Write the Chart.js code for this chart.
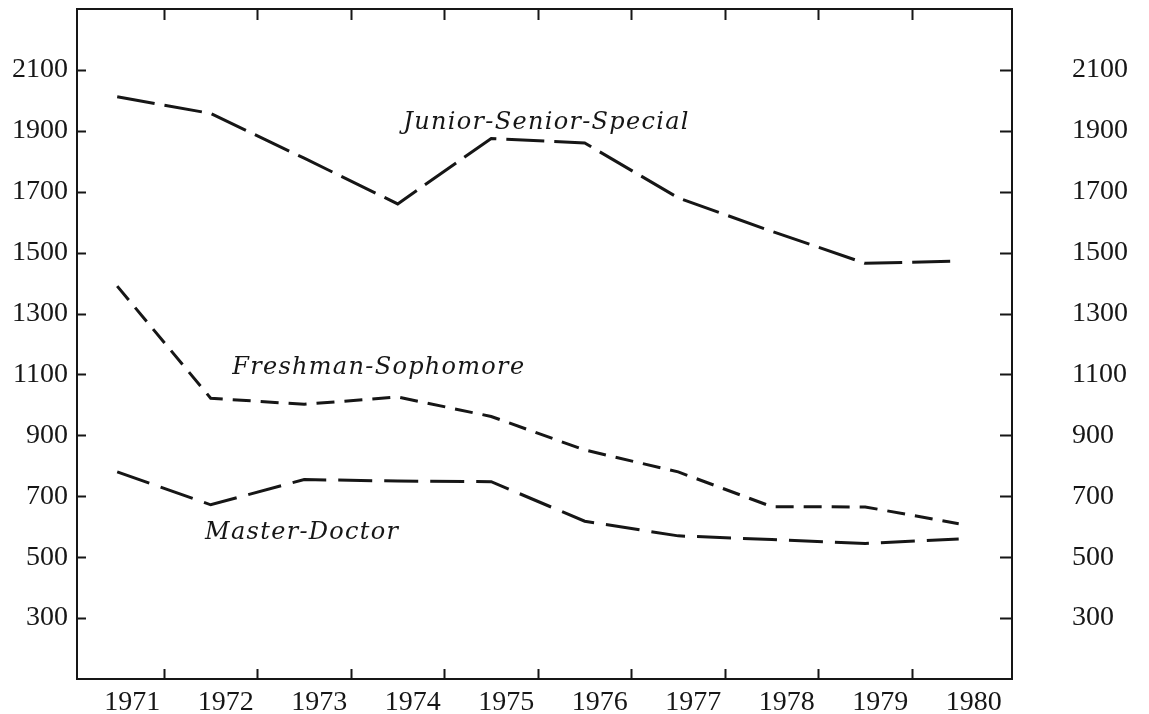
<!DOCTYPE html>
<html>
<head>
<meta charset="utf-8">
<script src="https://cdn.jsdelivr.net/npm/chart.js@4.4.1/dist/chart.umd.min.js"></script>
<style>
  html, body { margin: 0; padding: 0; background: #fff; }
  #wrap { width: 1149px; height: 714px; }
</style>
</head>
<body>
<div id="wrap"><canvas id="enrollChart" width="1149" height="714"></canvas></div>
<script>
// enrollment by level, 1971-1980
const years = [1971, 1972, 1973, 1974, 1975, 1976, 1977, 1978, 1979, 1980];
const juniorSeniorSpecial = [2012, 1957, 1810, 1660, 1875, 1860, 1680, 1570, 1465, 1472];
const freshmanSophomore = [1390, 1022, 1002, 1026, 962, 852, 780, 666, 665, 610];
const masterDoctor = [780, 672, 755, 750, 748, 618, 570, 558, 545, 560];
const yTickValues = [300, 500, 700, 900, 1100, 1300, 1500, 1700, 1900, 2100];

const ink = '#161616';
const tickFont = { family: '"Liberation Serif", serif', size: 28 };

// text labels placed in data coordinates
const seriesLabels = [
  { text: 'Junior-Senior-Special', x: 1974.06, y: 1907 },
  { text: 'Freshman-Sophomore', x: 1972.23, y: 1100 },
  { text: 'Master-Doctor', x: 1971.94, y: 561 }
];

function toPoints(values) {
  return values.map((v, i) => ({ x: years[i], y: v }));
}

// keep the plot frame fixed; label overhang should not shrink it
function fixSize(prop, size) {
  return s => {
    s[prop] = size;
    s.paddingTop = 0;
    s.paddingBottom = 0;
    s.paddingLeft = 0;
    s.paddingRight = 0;
  };
}

const frameTicks = {
  id: 'frameTicks',
  afterDraw(chart) {
    const ctx = chart.ctx;
    const area = chart.chartArea;
    const x = chart.scales.x;
    const y = chart.scales.y;
    const halfYears = years.slice(0, -1).map(v => v + 0.5);

    ctx.save();
    ctx.strokeStyle = ink;
    ctx.lineWidth = 2;
    ctx.beginPath();
    yTickValues.forEach(v => {
      const py = Math.round(y.getPixelForValue(v)) + 0.5;
      ctx.moveTo(area.left, py);
      ctx.lineTo(area.left + 9, py);
      ctx.moveTo(area.right, py);
      ctx.lineTo(area.right - 12, py);
    });
    halfYears.forEach(v => {
      const px = Math.round(x.getPixelForValue(v)) + 0.5;
      ctx.moveTo(px, area.top);
      ctx.lineTo(px, area.top + 11);
      ctx.moveTo(px, area.bottom);
      ctx.lineTo(px, area.bottom - 10);
    });
    ctx.stroke();

    ctx.fillStyle = ink;
    ctx.font = 'italic 24px "DejaVu Serif", serif';
    ctx.letterSpacing = '1.3px';
    ctx.textAlign = 'left';
    ctx.textBaseline = 'alphabetic';
    seriesLabels.forEach(l => {
      ctx.fillText(l.text, x.getPixelForValue(l.x), y.getPixelForValue(l.y));
    });
    ctx.restore();
  }
};

const lineStyle = {
  borderColor: ink,
  borderWidth: 3,
  pointRadius: 0,
  tension: 0,
  fill: false
};

new Chart(document.getElementById('enrollChart'), {
  type: 'line',
  data: {
    datasets: [
      Object.assign({ label: 'Junior-Senior-Special', data: toPoints(juniorSeniorSpecial), borderDash: [38, 10] }, lineStyle),
      Object.assign({ label: 'Freshman-Sophomore', data: toPoints(freshmanSophomore), borderDash: [18, 10] }, lineStyle),
      Object.assign({ label: 'Master-Doctor', data: toPoints(masterDoctor), borderDash: [34, 12] }, lineStyle)
    ]
  },
  options: {
    responsive: false,
    animation: false,
    layout: { padding: 0 },
    plugins: {
      legend: { display: false },
      tooltip: { enabled: false }
    },
    scales: {
      x: {
        type: 'linear',
        position: 'bottom',
        min: 1970.57,
        max: 1980.57,
        afterBuildTicks: s => { s.ticks = years.map(v => ({ value: v })); },
        afterFit: fixSize('height', 35),
        grid: { display: false, drawTicks: false },
        border: { display: true, color: ink, width: 2 },
        ticks: {
          font: tickFont,
          color: ink,
          padding: 7,
          labelOffset: 15,
          maxRotation: 0,
          autoSkip: false,
          callback: v => String(v)
        }
      },
      xTop: {
        type: 'linear',
        position: 'top',
        min: 1970.57,
        max: 1980.57,
        afterFit: fixSize('height', 9),
        grid: { display: false, drawTicks: false },
        border: { display: true, color: ink, width: 2 },
        ticks: { display: false }
      },
      y: {
        position: 'left',
        min: 100,
        max: 2300,
        afterBuildTicks: s => { s.ticks = yTickValues.map(v => ({ value: v })); },
        afterFit: fixSize('width', 77),
        grid: { display: false, drawTicks: false },
        border: { display: true, color: ink, width: 2 },
        ticks: { font: tickFont, color: ink, padding: 9, callback: v => String(v) }
      },
      yRight: {
        position: 'right',
        min: 100,
        max: 2300,
        afterBuildTicks: s => { s.ticks = yTickValues.map(v => ({ value: v })); },
        afterFit: fixSize('width', 137),
        grid: { display: false, drawTicks: false },
        border: { display: true, color: ink, width: 2 },
        ticks: { font: tickFont, color: ink, padding: 60, callback: v => String(v) }
      }
    }
  },
  plugins: [frameTicks]
});
</script>
</body>
</html>
